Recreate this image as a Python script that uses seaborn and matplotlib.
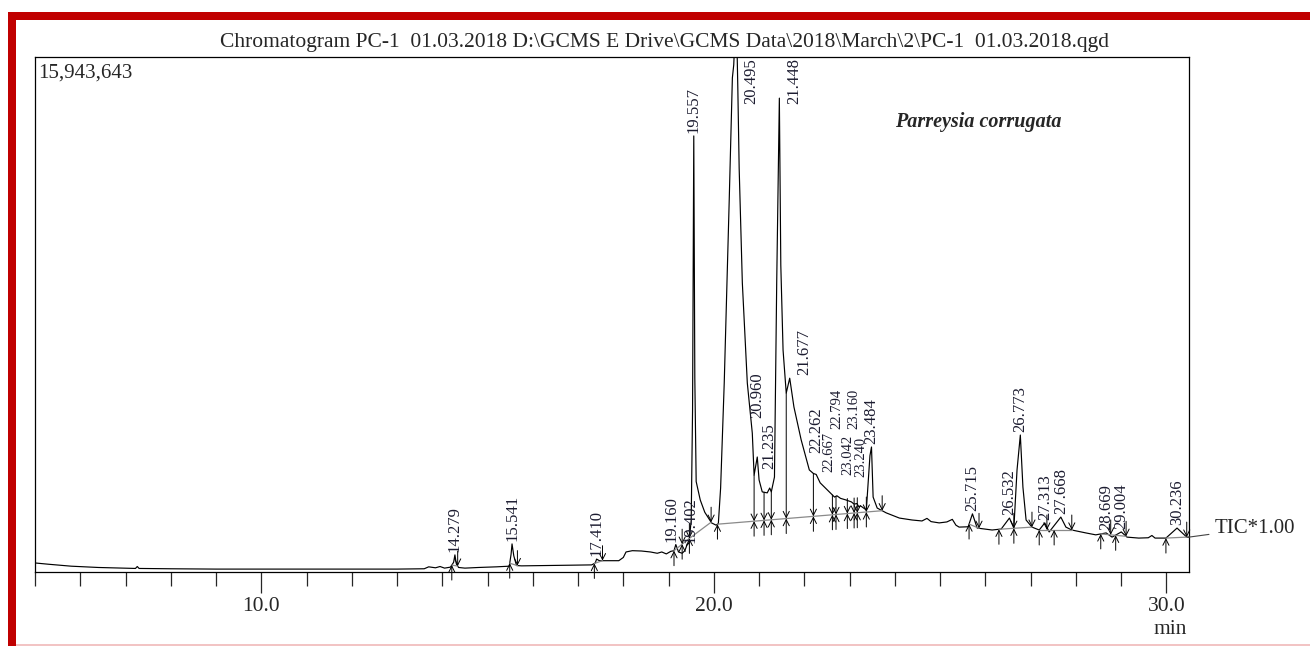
import numpy as np
import pandas as pd
import matplotlib
matplotlib.use("Agg")
import matplotlib.pyplot as plt
import matplotlib.patches as patches
from matplotlib.ticker import MultipleLocator
import seaborn as sns

# TIC trace, retention time (min) vs intensity (million counts)
rt_min = [5.00, 5.30, 5.80, 6.40, 7.00, 7.22, 7.26, 7.30, 8.00, 9.00,
          10.00, 11.00, 12.00, 13.00, 13.60, 13.70, 13.85, 13.95, 14.05, 14.18,
          14.25, 14.279, 14.31, 14.36, 14.50, 14.80, 15.20, 15.48, 15.52, 15.541,
          15.58, 15.64, 15.75, 16.20, 16.80, 17.30, 17.38, 17.41, 17.47, 17.55,
          17.90, 18.00, 18.06, 18.20, 18.40, 18.60, 18.75, 18.85, 18.95, 19.05,
          19.12, 19.16, 19.22, 19.30, 19.36, 19.402, 19.45, 19.50, 19.53, 19.557,
          19.58, 19.61, 19.70, 19.80, 19.95, 20.05, 20.10, 20.15, 20.23, 20.34,
          20.41, 20.44, 20.495, 20.53, 20.56, 20.63, 20.74, 20.85, 20.89, 20.96,
          21.00, 21.07, 21.18, 21.235, 21.27, 21.34, 21.39, 21.448, 21.48, 21.53,
          21.60, 21.677, 21.77, 21.93, 22.11, 22.20, 22.262, 22.35, 22.55, 22.667,
          22.72, 22.80, 22.92, 23.04, 23.10, 23.16, 23.21, 23.24, 23.37, 23.45,
          23.484, 23.52, 23.61, 23.81, 24.10, 24.38, 24.60, 24.71, 24.80, 24.98,
          25.15, 25.27, 25.35, 25.42, 25.62, 25.715, 25.82, 26.15, 26.35, 26.532,
          26.63, 26.70, 26.773, 26.83, 26.90, 27.03, 27.19, 27.313, 27.41, 27.668,
          27.78, 27.91, 28.22, 28.44, 28.669, 28.80, 29.004, 29.13, 29.39, 29.60,
          29.68, 29.75, 29.99, 30.236, 30.45, 30.50]
tic_mcounts = [0.28, 0.24, 0.18, 0.14, 0.12, 0.11, 0.17, 0.11, 0.10, 0.09,
               0.09, 0.09, 0.09, 0.09, 0.10, 0.16, 0.13, 0.17, 0.12, 0.15,
               0.30, 0.53, 0.25, 0.14, 0.12, 0.14, 0.16, 0.18, 0.55, 0.87,
               0.50, 0.20, 0.19, 0.20, 0.21, 0.22, 0.28, 0.40, 0.35, 0.35,
               0.35, 0.45, 0.62, 0.66, 0.65, 0.62, 0.58, 0.62, 0.56, 0.64,
               0.66, 0.85, 0.62, 0.58, 0.66, 0.82, 0.90, 1.60, 5.00, 13.50,
               6.00, 2.80, 2.23, 1.85, 1.52, 1.45, 1.50, 2.60, 5.85, 11.50,
               15.30, 15.70, 17.50, 15.00, 12.50, 8.95, 5.85, 4.30, 3.00, 3.56,
               2.85, 2.48, 2.45, 2.60, 2.48, 2.94, 9.00, 14.67, 9.50, 6.87,
               5.54, 6.00, 5.11, 4.09, 3.16, 3.05, 3.02, 2.76, 2.48, 2.32,
               2.36, 2.28, 2.23, 2.17, 2.10, 2.12, 2.01, 2.05, 1.92, 3.60,
               3.87, 2.32, 1.98, 1.83, 1.67, 1.61, 1.58, 1.66, 1.56, 1.52,
               1.55, 1.63, 1.45, 1.39, 1.40, 1.80, 1.36, 1.30, 1.33, 1.67,
               1.36, 3.16, 4.24, 2.63, 1.61, 1.39, 1.30, 1.52, 1.24, 1.70,
               1.39, 1.30, 1.21, 1.15, 1.21, 1.08, 1.24, 1.08, 1.05, 1.06,
               1.13, 1.05, 1.05, 1.36, 1.08, 1.08]

# integrated peaks: label, start, end, integration group
peak_labels = ["14.279", "15.541", "17.410", "19.160", "19.402", "19.557", "20.495",
               "20.960", "21.235", "21.448", "21.677", "22.262", "22.667", "22.794",
               "23.042", "23.160", "23.240", "23.484", "25.715", "26.532", "26.773",
               "27.313", "27.668", "28.669", "29.004", "30.236"]
peak_start = [14.21, 15.49, 17.36, 19.12, 19.30, 19.46, 20.08, 20.89, 21.11, 21.27,
              21.60, 22.20, 22.62, 22.70, 22.95, 23.10, 23.17, 23.37, 25.64, 26.30,
              26.63, 27.19, 27.52, 28.55, 28.88, 29.99]
peak_end = [14.34, 15.66, 17.54, 19.30, 19.46, 19.94, 20.89, 21.11, 21.27, 21.60,
            22.20, 22.62, 22.70, 22.95, 23.10, 23.17, 23.37, 23.72, 25.86, 26.63,
            27.03, 27.36, 27.91, 28.77, 29.11, 30.45]
peak_group = [0, 1, 2, 3, 3, 4, 5, 5, 5, 5, 5, 5, 5, 5, 5, 5, 5, 5, 6, 7, 7, 8, 8, 9, 9, 10]

y_max = 15.943643
title = r"Chromatogram PC-1  01.03.2018 D:\GCMS E Drive\GCMS Data\2018\March\2\PC-1  01.03.2018.qgd"

# label placement tweaks (pixels) for the crowded spots
label_lift = {"20.960": 36, "21.235": 16, "22.262": 18, "22.667": 22,
              "22.794": 66, "23.042": 24, "23.160": 72, "23.240": 26}
label_shift = {"21.677": 15, "19.160": -4, "19.402": 4, "22.667": -6,
               "22.794": -3, "23.042": -4, "23.160": -3, "23.240": 0}

sns.set_style("white")
plt.rcParams["font.family"] = ["Liberation Serif", "DejaVu Serif"]

W, H = 1310, 646
fig = plt.figure(figsize=(W / 100, H / 100), dpi=100)
ax_l, ax_b, ax_r, ax_t = 35 / W, 1 - 572 / H, 1189 / W, 1 - 57 / H
ax = fig.add_axes([ax_l, ax_b, ax_r - ax_l, ax_t - ax_b])

df = pd.DataFrame({"rt": rt_min, "tic": tic_mcounts})
sns.lineplot(data=df, x="rt", y="tic", color="black", lw=0.85, estimator=None,
             sort=False, ax=ax)

ax.set_xlim(5, 30.5)
ax.set_ylim(0, y_max)
per_px = y_max / ((ax_t - ax_b) * H)


def trace_at(t):
    return float(np.interp(t, rt_min, tic_mcounts))


# integration baselines
groups = {}
for s, e, g in zip(peak_start, peak_end, peak_group):
    g0, g1 = groups.get(g, (s, e))
    groups[g] = (min(g0, s), max(g1, e))


def base_at(t, g):
    g0, g1 = groups[g]
    return float(np.interp(t, [g0, g1], [trace_at(g0), trace_at(g1)]))


for g, (g0, g1) in groups.items():
    ax.plot([g0, g1], [trace_at(g0), trace_at(g1)], color="#8a8a8a", lw=0.9, zorder=2)

arrow = dict(arrowstyle="->", lw=0.7, color="black", shrinkA=0, shrinkB=0,
             mutation_scale=11)
for s, e, g in zip(peak_start, peak_end, peak_group):
    ys = base_at(s, g)
    ax.annotate("", xy=(s, ys), xytext=(s, ys - 15 * per_px), arrowprops=arrow,
                annotation_clip=False)
    ye = base_at(e, g)
    tail = max(trace_at(e), ye + 15 * per_px)
    ax.annotate("", xy=(e, ye), xytext=(e, tail), arrowprops=arrow)

# retention time labels
label_font = 12
label_h = 48 * per_px
for lab in peak_labels:
    t = float(lab)
    top = trace_at(t)
    if top + label_h + 4 * per_px > y_max:
        ax.annotate(lab, xy=(t, y_max), xytext=(15, -1), textcoords="offset pixels",
                    rotation=90, ha="center", va="top", fontsize=label_font,
                    color="#1c1c30")
    else:
        fs = label_font - 1.5 if lab in ("22.667", "22.794", "23.042", "23.160",
                                         "23.240") else label_font
        ax.annotate(lab, xy=(t, top),
                    xytext=(label_shift.get(lab, 0), 3 + label_lift.get(lab, 0)),
                    textcoords="offset pixels", rotation=90, ha="center",
                    va="bottom", fontsize=fs, color="#1c1c30")

# axes styling
for sp in ax.spines.values():
    sp.set_visible(True)
    sp.set_color("black")
    sp.set_linewidth(0.9)
ax.set_yticks([])
ax.set_xticks([10, 20, 30])
ax.set_xticklabels(["10.0", "20.0", "30.0"])
ax.xaxis.set_minor_locator(MultipleLocator(1))
ax.tick_params(axis="x", which="major", direction="out", length=15, width=0.9,
               labelsize=15.5, pad=3, bottom=True)
ax.tick_params(axis="x", which="minor", direction="out", length=10, width=0.9,
               bottom=True)
ax.set_xlabel("")
ax.set_ylabel("")

ax.text(0.003, 0.988, "15,943,643", transform=ax.transAxes, ha="left", va="top",
        fontsize=15)
ax.text(0.817, 0.874, "Parreysia corrugata", transform=ax.transAxes, ha="center",
        va="center", fontsize=14.5, fontweight="bold", fontstyle="italic")
ax.annotate("TIC*1.00", xy=(30.5, trace_at(30.5)), xytext=(26, 9),
            textcoords="offset pixels", ha="left", va="center", fontsize=15,
            annotation_clip=False,
            arrowprops=dict(arrowstyle="-", lw=0.8, color="#444444", shrinkA=2,
                            shrinkB=0))
fig.text(1170 / W, 1 - 630 / H, "min", ha="center", va="center", fontsize=15.5)
fig.text(664 / W, 1 - 42 / H, title, ha="center", va="center", fontsize=15.5)

# red frame of the source figure
red = "#c00000"
fig.add_artist(patches.Rectangle((8 / W, 0), 8 / W, 1 - 12 / H,
                                 transform=fig.transFigure, color=red, lw=0))
fig.add_artist(patches.Rectangle((8 / W, 1 - 20 / H), 1 - 8 / W, 8 / H,
                                 transform=fig.transFigure, color=red, lw=0))
fig.add_artist(patches.Rectangle((16 / W, 0), 1 - 16 / W, 2 / H,
                                 transform=fig.transFigure, color="#f2c4c4", lw=0))

fig.savefig("out.png", dpi=100)
